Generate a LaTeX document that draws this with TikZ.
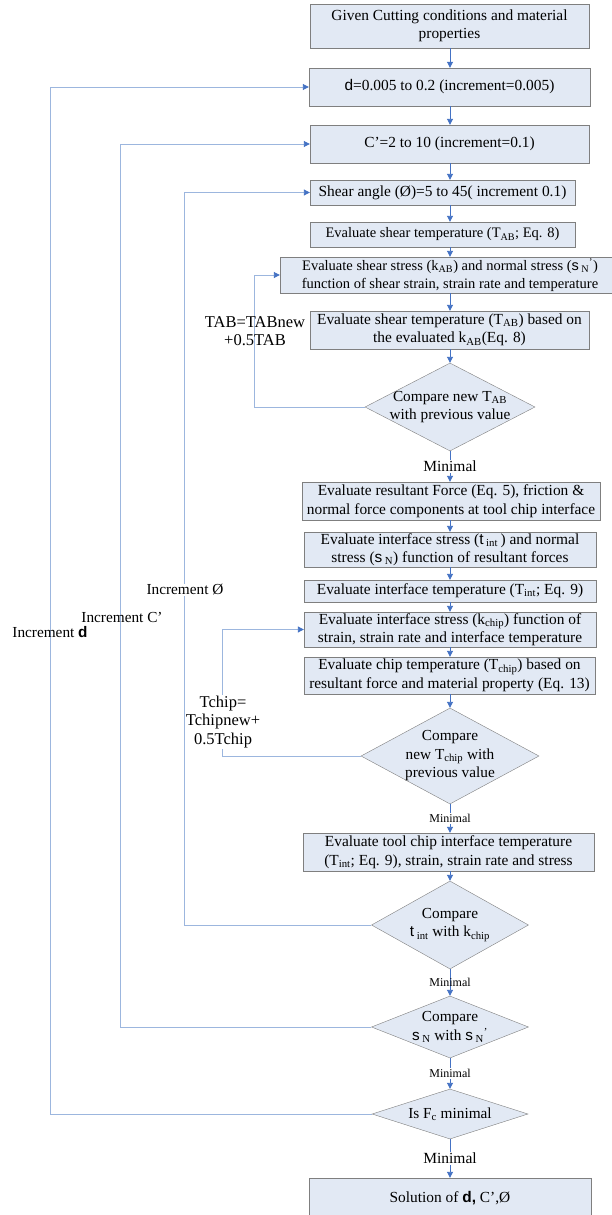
\documentclass[tikz,border=0pt]{standalone}
\usepackage{fontspec}
\setmainfont{Liberation Serif}
\newfontfamily\sy{Liberation Sans}
\usetikzlibrary{arrows.meta,shapes.geometric}
\definecolor{boxfill}{HTML}{E2E9F4}
\definecolor{boxline}{HTML}{7F7F7F}
\definecolor{flowblue}{HTML}{4472C4}
\definecolor{loopblue}{HTML}{9CB6DE}
\tikzset{
  box/.style={draw=boxline, fill=boxfill, align=center, inner sep=1pt, font=\fontsize{15.4}{18.5}\selectfont},
  tightbox/.style={box, font=\fontsize{14.5}{18}\selectfont},
  decision/.style={diamond, draw=boxline, fill=boxfill, inner sep=0pt},
  dtext/.style={align=center, inner sep=0pt, font=\fontsize{15.3}{18.5}\selectfont},
  flow/.style={draw=flowblue, line width=0.9pt, -{Triangle[length=6pt,width=6pt]}},
  back/.style={draw=loopblue, line width=0.9pt, -{Triangle[length=6pt,width=6pt,color=flowblue]}},
  note/.style={align=center, inner sep=1pt, font=\fontsize{15.3}{18.5}\selectfont},
  bignote/.style={note, font=\fontsize{16.5}{18.5}\selectfont},
  minlab/.style={fill=white, inner sep=1pt, font=\fontsize{15.5}{17}\selectfont},
  smalllab/.style={fill=white, inner sep=1pt, font=\fontsize{12}{14}\selectfont}
}
\begin{document}
\begin{tikzpicture}[x=1pt,y=-1pt]
  \path[use as bounding box, fill=white] (0,0) rectangle (611,1215);
  \node[box, minimum width=279, minimum height=44] (given) at (449.5,26) {Given Cutting conditions and material\\properties};
  \node[box, minimum width=281, minimum height=38] (dstep) at (449.5,87) {{\sy d}=0.005 to 0.2 (increment=0.005)};
  \node[box, minimum width=279, minimum height=38] (cstep) at (449.5,144) {C’=2 to 10 (increment=0.1)};
  \node[box, minimum width=265, minimum height=25] (shear) at (442.5,192.5) {Shear angle (Ø)=5 to 45( increment 0.1)};
  \node[tightbox, minimum width=265, minimum height=25] (tab) at (442.5,234.5) {Evaluate shear temperature (T\textsubscript{AB}; Eq. 8)};
  \node[tightbox, minimum width=340, minimum height=36] (kab) at (450,275) {Evaluate shear stress (k\textsubscript{AB}) and normal stress ({\sy s}\,\textsubscript{N}\textsuperscript{’})\\function of shear strain, strain rate and temperature};
  \node[box, minimum width=279, minimum height=38] (tabnew) at (449.5,330) {Evaluate shear temperature (T\textsubscript{AB}) based on\\the evaluated k\textsubscript{AB}(Eq. 8)};
  \node[decision, minimum width=170, minimum height=88, label={[dtext]center:{Compare new T\textsubscript{AB}\\with previous value}}] (cmptab) at (450,407) {};
  \node[box, minimum width=298, minimum height=38] (force) at (451,501) {Evaluate resultant Force (Eq. 5), friction \&\\normal force components at tool chip interface};
  \node[box, minimum width=292, minimum height=35] (tau) at (450,549.5) {Evaluate interface stress ({\sy t}\,\textsubscript{int}\,) and normal\\stress ({\sy s}\,\textsubscript{N}) function of resultant forces};
  \node[box, minimum width=292, minimum height=22] (tint) at (450,591) {Evaluate interface temperature (T\textsubscript{int}; Eq. 9)};
  \node[box, minimum width=292, minimum height=35] (kchip) at (450,629.5) {Evaluate interface stress (k\textsubscript{chip}) function of\\strain, strain rate and interface temperature};
  \node[box, minimum width=291, minimum height=37] (tchip) at (449.5,675.5) {Evaluate chip temperature (T\textsubscript{chip}) based on\\resultant force and material property (Eq. 13)};
  \node[decision, minimum width=178, minimum height=96, label={[dtext]center:{Compare\\new T\textsubscript{chip} with\\previous value}}] (cmptchip) at (450,756) {};
  \node[box, minimum width=291, minimum height=38] (tool) at (448.5,852) {Evaluate tool chip interface temperature\\(T\textsubscript{int}; Eq. 9), strain, strain rate and stress};
  \node[decision, minimum width=157, minimum height=88, label={[dtext]center:{Compare\\{\sy t}\,\textsubscript{int} with k\textsubscript{chip}}}] (cmptau) at (450,925) {};
  \node[decision, minimum width=157, minimum height=62, label={[dtext]center:{Compare\\{\sy s}\,\textsubscript{N} with {\sy s}\,\textsubscript{N}\textsuperscript{’}}}] (cmpsig) at (450,1027) {};
  \node[decision, minimum width=156, minimum height=50, label={[dtext]center:{Is F\textsubscript{c} minimal}}] (isfc) at (450,1114) {};
  \node[box, minimum width=282, minimum height=40] (sol) at (450,1198) {Solution of {\sy\bfseries d,} C’,Ø};

  \coordinate (spine) at (450,0);
  \foreach \a/\b in {given/dstep, dstep/cstep, cstep/shear, shear/tab, tab/kab, kab/tabnew, tabnew/cmptab,
    force/tau, tau/tint, tint/kchip, kchip/tchip, tchip/cmptchip, tool/cmptau}
    \draw[flow] (\a.south -| spine) -- (\b.north -| spine);
  \draw[flow] (cmptab.south) -- node[minlab] {Minimal} (force.north -| spine);
  \draw[flow] (cmptchip.south) -- node[smalllab] {Minimal} (tool.north -| spine);
  \draw[flow] (cmptau.south) -- node[smalllab, fill=none] {Minimal} (cmpsig.north);
  \draw[flow] (cmpsig.south) -- node[smalllab] {Minimal} (isfc.north);
  \draw[flow] (isfc.south) -- node[minlab] {Minimal} (sol.north -| spine);

  \coordinate (colD) at (50,0);
  \coordinate (colC) at (120,0);
  \coordinate (colF) at (184,0);
  \coordinate (colT) at (222,0);
  \coordinate (colA) at (254,0);
  \draw[back] (isfc.west) -- (isfc.west -| colD) |- (dstep.west);
  \draw[back] (cmpsig.west) -- (cmpsig.west -| colC) |- (cstep.west);
  \draw[back] (cmptau.west) -- (cmptau.west -| colF) |- (shear.west);
  \draw[back] (cmptchip.west) -- (cmptchip.west -| colT) |- (kchip.west);
  \draw[back] (cmptab.west) -- (cmptab.west -| colA) |- (kab.west);

  \node[note] (incd) at (50,632) {Increment {\sy\bfseries d}};
  \node[note] (incc) at (122,617) {Increment C’};
  \node[note, fill=white] (incf) at (185,590) {Increment Ø};
  \node[bignote] (tabeq) at (255,331) {TAB=TABnew\\+0.5TAB};
  \node[bignote, fill=white] (tchipeq) at (223,722) {Tchip=\\Tchipnew+\\0.5Tchip};
\end{tikzpicture}
\end{document}
